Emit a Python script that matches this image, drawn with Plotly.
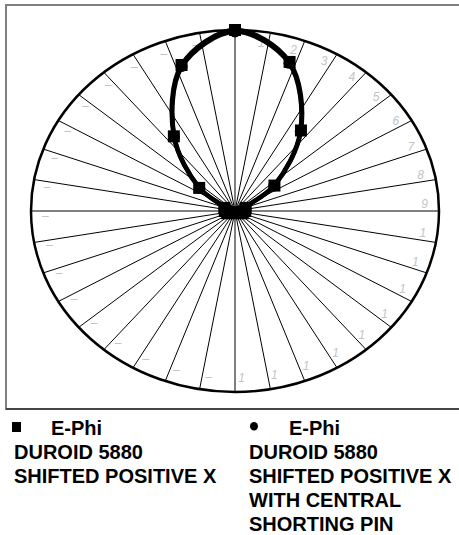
import numpy as np
import plotly.graph_objects as go

# ---------------- data ----------------
# data angles (degrees, clockwise from top)
angles_deg = [0, 18, 36, 54, 72, 90, 108, 126, 144, 162,
              180, 198, 216, 234, 252, 270, 288, 306, 324, 342]
# E-Phi, Duroid 5880, shifted positive X (normalised radius)
ephi_shifted = [1.00, 0.866, 0.55, 0.239, 0.055, 0.05, 0.04, 0.02, 0.012, 0.008,
                0.006, 0.008, 0.012, 0.02, 0.04, 0.05, 0.055, 0.217, 0.51, 0.848]
# E-Phi, Duroid 5880, shifted positive X with central shorting pin
ephi_pin = [0.99, 0.858, 0.545, 0.235, 0.05, 0.045, 0.035, 0.018, 0.01, 0.006,
            0.005, 0.006, 0.01, 0.018, 0.035, 0.045, 0.05, 0.213, 0.505, 0.84]

# angular axis ticks (degrees clockwise from top) and visible tick texts
spoke_deg = list(range(0, 360, 10))
tick_labels = ["", "1", "2", "3", "4", "5", "6", "7", "8", "9",
               "1", "1", "1", "1", "1", "1", "1", "1", "1",
               "–", "–", "–", "–", "–", "–", "–", "–", "–",
               "–", "–", "–", "–", "–", "–", "–", "–"]

legend_1 = ["E-Phi", "DUROID 5880", "SHIFTED POSITIVE X"]
legend_2 = ["E-Phi", "DUROID 5880", "SHIFTED POSITIVE X", "WITH CENTRAL", "SHORTING PIN"]

# ---------------- layout geometry ----------------
W, H = 459, 535
CX, CY, RX, RY = 235, 211, 204, 181


def px(x):
    return x / W


def py(y):
    return 1 - y / H


def polar_xy(r, deg):
    t = np.radians(np.asarray(deg, dtype=float))
    r = np.asarray(r, dtype=float)
    return r * np.sin(t), r * np.cos(t)


fig = go.Figure()

# spokes (angular grid)
sx, sy = [], []
for d in spoke_deg:
    ex, ey = polar_xy(1.0, d)
    sx += [0, float(ex), None]
    sy += [0, float(ey), None]
fig.add_trace(go.Scatter(x=sx, y=sy, mode="lines", line=dict(color="black", width=1),
                         hoverinfo="skip", showlegend=False))

# tick labels
lx, ly = polar_xy(0.93, np.array(spoke_deg) - 2)
fig.add_trace(go.Scatter(x=lx, y=ly, mode="text", text=tick_labels,
                         textfont=dict(family="Arial", size=12, color="#c4c4c4", style="italic"),
                         hoverinfo="skip", showlegend=False))

# series
for vals, sym, size in [(ephi_pin, "circle", 11), (ephi_shifted, "square", 12)]:
    x, y = polar_xy(vals + vals[:1], angles_deg + angles_deg[:1])
    fig.add_trace(go.Scatter(x=x, y=y, mode="lines+markers",
                             line=dict(color="black", width=4.5, shape="spline", smoothing=1.0),
                             marker=dict(symbol=sym, size=size, color="black"),
                             showlegend=False))

shapes = [
    # outer ellipse (radial axis max)
    dict(type="circle", xref="x", yref="y", x0=-1, x1=1, y0=-1, y1=1,
         line=dict(color="black", width=2.5), layer="below"),
    # plot frame
    dict(type="rect", xref="paper", yref="paper", x0=px(6), x1=px(475), y0=py(409), y1=py(5),
         line=dict(color="#808080", width=2)),
    dict(type="line", xref="paper", yref="paper", x0=px(6), x1=px(475), y0=py(409), y1=py(409),
         line=dict(color="#333333", width=1.5)),
    # legend symbols
    dict(type="rect", xref="paper", yref="paper", x0=px(12), x1=px(21), y0=py(432), y1=py(422),
         fillcolor="black", line=dict(width=0)),
    dict(type="circle", xref="paper", yref="paper", x0=px(250), x1=px(258), y0=py(430.5), y1=py(422),
         fillcolor="black", line=dict(width=0)),
]

annotations = []
lfont = dict(family="Arial", size=20, color="black")
row_y = [427.5, 451.7, 475.7, 499.5, 524]
for col, (lines, x_first, x_text) in enumerate([(legend_1, 50, 13), (legend_2, 288, 248)]):
    for i, t in enumerate(lines):
        annotations.append(dict(text=f"<b>{t}</b>", x=px(x_first if i == 0 else x_text), y=py(row_y[i]),
                                xref="paper", yref="paper", xanchor="left", yanchor="middle",
                                showarrow=False, font=lfont, borderpad=0))

fig.update_layout(
    width=W, height=H, autosize=False,
    margin=dict(l=0, r=0, t=0, b=0),
    paper_bgcolor="white", plot_bgcolor="white",
    xaxis=dict(range=[(0 - CX) / RX, (W - CX) / RX], visible=False, fixedrange=True),
    yaxis=dict(range=[(CY - H) / RY, CY / RY], visible=False, fixedrange=True),
    shapes=shapes, annotations=annotations, showlegend=False,
)

fig.write_html("out.html", config={"displayModeBar": False},
               post_script="document.body.style.margin='0';document.body.style.overflow='hidden';")
